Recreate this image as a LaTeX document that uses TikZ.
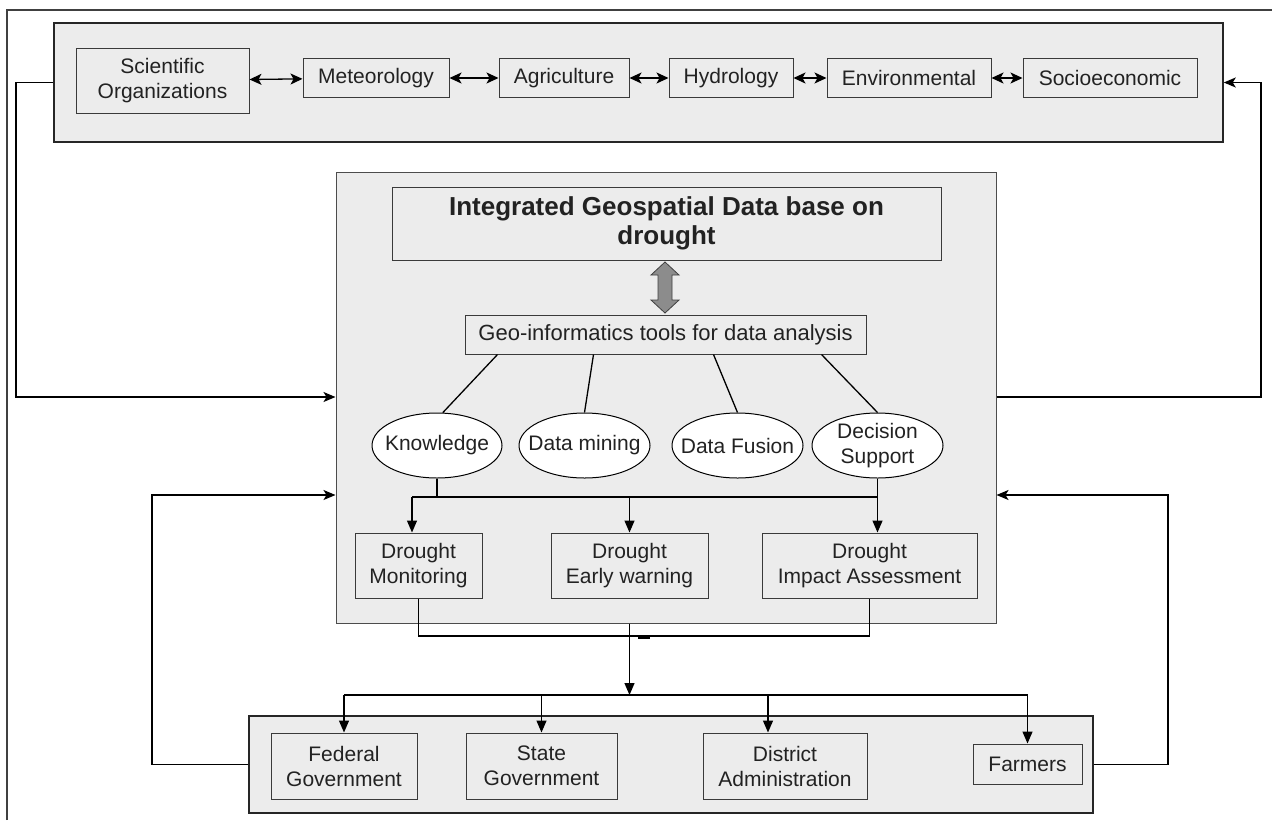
\documentclass[tikz,border=0pt]{standalone}
\usepackage{fontspec}
\setmainfont{Liberation Sans}
\usetikzlibrary{arrows.meta,calc,shapes.geometric}
\definecolor{panel}{HTML}{ECECEC}
\definecolor{edge}{HTML}{3A3A3A}
\definecolor{ink}{HTML}{222222}
\definecolor{arrowgray}{HTML}{8C8C8C}
\begin{document}
\begin{tikzpicture}[x=1pt,y=-1pt,
  container/.style={draw=black!85, line width=1.5pt, fill=panel, inner sep=0pt},
  box/.style={draw=edge, line width=1pt, fill=panel, align=center, inner sep=0pt, text=ink, font=\fontsize{21}{25}\selectfont},
  oval/.style={ellipse, draw=black, line width=1pt, fill=white, align=center, inner xsep=-16pt, inner ysep=-8pt, minimum width=131pt, minimum height=65pt, text=ink, font=\fontsize{21}{25}\selectfont},
  conn/.style={line width=1.3pt, draw=black},
  arr/.style={conn, -{Triangle[length=12pt,width=10pt]}},
  tarr/.style={conn, {Stealth[length=12pt,width=11pt,inset=3pt]}-{Stealth[length=12pt,width=11pt,inset=3pt]}},
  larr/.style={conn, -{Stealth[length=12pt,width=10pt,inset=3pt]}},
]
\useasboundingbox (0,0) rectangle (1272,820);
\fill[white] (0,0) rectangle (1272,820);
% outer frame
\draw[line width=1.2pt, draw=black!75] (7,820) -- (7,10) -- (1272,10);

% top panel
\node[container, minimum width=1169pt, minimum height=119pt] (top) at (638.5,82.5) {};
\node[box, minimum width=173pt, minimum height=65pt] (sci) at (162.5,80.5) {Scientific\\Organizations};
\node[box, minimum width=146pt, minimum height=39pt] (met) at (376,78) {Meteorology};
\node[box, minimum width=130pt, minimum height=39pt] (agr) at (564,78) {Agriculture};
\node[box, minimum width=124pt, minimum height=39pt] (hyd) at (731,78) {Hydrology};
\node[box, minimum width=164pt, minimum height=39pt] (env) at (909,78) {Environmental};
\node[box, minimum width=174pt, minimum height=39pt] (soc) at (1110,78) {Socioeconomic};
\draw[tarr] (sci) -- (met);
\draw[tarr] (met) -- (agr);
\draw[tarr] (agr) -- (hyd);
\draw[tarr] (hyd) -- (env);
\draw[tarr] (env) -- (soc);

% middle panel
\node[container, draw=black!70, line width=1pt, minimum width=660pt, minimum height=451pt] (mid) at (666,397.5) {};
\node[box, minimum width=549pt, minimum height=73pt, font=\fontsize{26}{29}\selectfont\bfseries] (title) at (666.5,223.5) {Integrated Geospatial Data base on\\drought};
\node[box, minimum width=401pt, minimum height=39pt, font=\fontsize{22}{25}\selectfont] (geo) at (665.5,334.5) {Geo-informatics tools for data analysis};
\begin{scope}[shift={(665,262)}]
\filldraw[fill=arrowgray, draw=black!75, line width=0.8pt]
  (0,0) -- (14,13) -- (7,13) -- (7,38) -- (14,38) -- (0,51) -- (-14,38) -- (-7,38) -- (-7,13) -- (-14,13) -- cycle;
\end{scope}

\node[oval, minimum width=130pt] (know) at (437,445.5) {Knowledge};
\node[oval] (mine) at (584.5,445.5) {Data mining};
\node[oval] (fus) at (737.5,445.5) {Data Fusion};
\node[oval] (dec) at (877.5,445.5) {Decision\\Support};

\draw[conn] ($(geo.south west)+(33,0)$) -- (know.80);
\draw[conn] ($(geo.south west)+(129,0)$) -- (mine.north);
\draw[conn] ($(geo.south west)+(249,0)$) -- (fus.north);
\draw[conn] ($(geo.south west)+(357,0)$) -- (dec.north);

\node[box, minimum width=127pt, minimum height=65pt] (mon) at (418.5,565.5) {Drought\\Monitoring};
\node[box, minimum width=157pt, minimum height=65pt] (ew) at (629.5,565.5) {Drought\\Early warning};
\node[box, minimum width=215pt, minimum height=65pt] (imp) at (869.5,565.5) {Drought\\Impact Assessment};

\coordinate (busL) at (412,497);
\draw[conn] (know.south) -- (know.south |- busL);
\draw[conn] (busL) -- (busL -| dec.south);
\draw[arr] (busL) -- (busL |- mon.north);
\draw[arr] (ew.north |- busL) -- (ew.north);
\draw[arr] (dec.south) -- (dec.south |- imp.north);

% collector
\coordinate (colY) at (0,636);
\draw[conn] (mon.south) -- (mon.south |- colY) -- (imp.south |- colY) -- (imp.south);
\draw[line width=2.5pt] (638,637.5) -- (650,637.5);

% bottom panel
\node[container, minimum width=844pt, minimum height=97pt] (bot) at (671,764.5) {};
\node[box, minimum width=146pt, minimum height=66pt] (fed) at (344,766) {Federal\\Government};
\node[box, minimum width=151pt, minimum height=66pt] (sta) at (541.5,766) {State\\Government};
\node[box, minimum width=164pt, minimum height=66pt] (dis) at (785,766) {District\\Administration};
\node[box, minimum width=109pt, minimum height=40pt] (far) at (1027.5,764) {Farmers};

\coordinate (distY) at (0,695);
\draw[arr] (mid.south -| ew.south) -- (ew.south |- distY);
\draw[conn] (fed.north |- distY) -- (far.north |- distY);
\draw[arr] (fed.north |- distY) -- (fed.north);
\draw[arr] (sta.north |- distY) -- (sta.north);
\coordinate (dA) at ($(dis.north)+(-17,0)$);
\draw[arr] (dA |- distY) -- (dA);
\draw[arr] (far.north |- distY) -- (far.north);

% feedback loops
\coordinate (loopL) at (152,495);
\coordinate (loopR) at (1168,495);
\coordinate (topL) at (16,397);
\coordinate (topR) at (1261,397);
\draw[larr] (bot.west) -| (loopL) -- (loopL -| mid.west);
\draw[larr] (bot.east) -| (loopR) -- (loopR -| mid.east);
\draw[larr] (top.west) -| (topL) -- (topL -| mid.west);
\draw[larr] (mid.east |- topR) -- (topR) |- (top.east);
\end{tikzpicture}
\end{document}
